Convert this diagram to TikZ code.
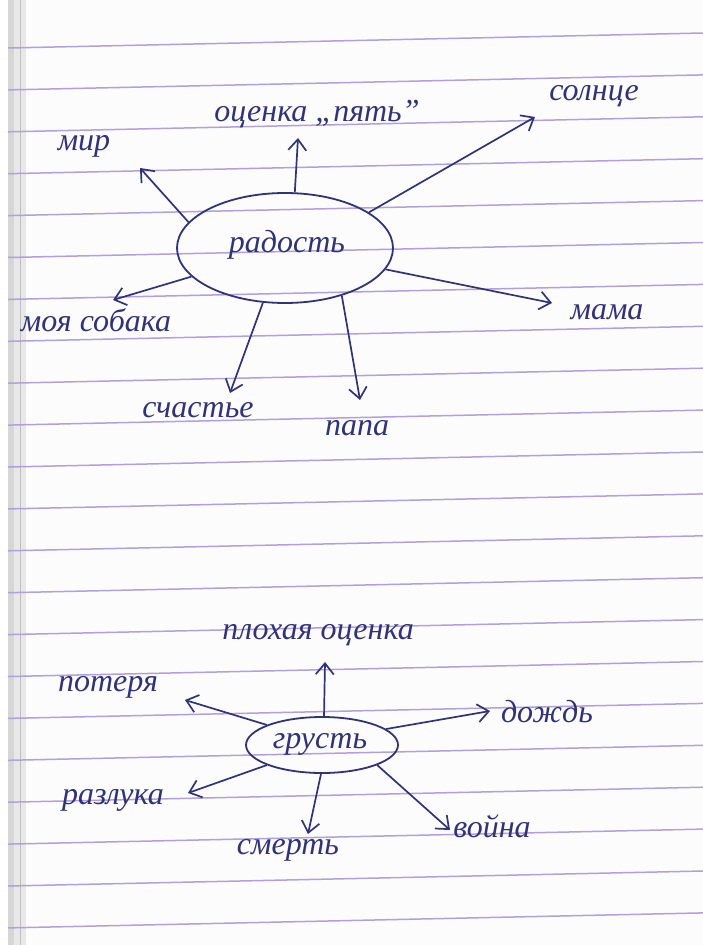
\documentclass[tikz,border=0pt]{standalone}
\usepackage{fontspec}
\setmainfont{Liberation Serif}
\usepackage{tikz}
\usetikzlibrary{shapes.geometric,arrows.meta}

\definecolor{ink}{RGB}{50,50,118}
\definecolor{ruling}{RGB}{176,160,222}
\definecolor{paper}{RGB}{252,252,252}

\begin{document}
\begin{tikzpicture}[x=1pt, y=-1pt,
    word/.style={font=\itshape\fontsize{32}{32}\selectfont, text=ink, inner sep=0pt},
    blob/.style={ellipse, draw=ink, line width=1.8pt, inner sep=0pt},
    arr/.style={draw=ink, line width=1.7pt, -{Straight Barb[length=11pt, width=18pt]}}]
      \useasboundingbox (0, 0) rectangle (703, 945);
      % the notebook page
      \fill[white] (0, 0) rectangle (703, 945);
      \fill[paper] (8, 0) rectangle (703, 945);
      \fill[black!16] (8, 0) rectangle (14, 945);
      \fill[black!9] (14, 0) rectangle (26, 945);
      \draw[black!25, line width=1pt] (20, 0) -- (20, 945);
      \foreach \k in {0,...,21}
        \draw[ruling, line width=1.5pt] (8, 48 + 41.9*\k) -- (703, 33 + 41.9*\k);

      % top map
      \node[blob, minimum width=216pt, minimum height=110pt] (joy) at (285, 248) {};
      \node[word] (joytxt) at (287, 245) {радость};

      \coordinate (tmir) at (140, 168);
      \coordinate (tgrade) at (298, 138);
      \coordinate (tsun) at (535, 117);
      \coordinate (tmom) at (552, 303);
      \coordinate (tdad) at (360, 400);
      \coordinate (thappy) at (230, 393);
      \coordinate (tdog) at (113, 300);

      \node[word] (mir) at (84, 146) {мир};
      \node[word] (grade) at (317, 114) {оценка „пять"};
      \node[word] (sun) at (594, 96) {солнце};
      \node[word] (mom) at (607, 312) {мама};
      \node[word] (dad) at (357, 428) {папа};
      \node[word] (happy) at (198, 410) {счастье};
      \node[word] (dog) at (96, 320) {моя собака};

      \draw[arr] (joy.165) -- (tmir);
      \draw[arr] (joy.80) -- (tgrade);
      \draw[arr] (joy.23) -- (tsun);
      \draw[arr] (joy.-12) -- (tmom);
      \draw[arr] (joy.-40) -- (tdad);
      \draw[arr] (joy.-112) -- (thappy);
      \draw[arr] (joy.-163) -- (tdog);

      % bottom map
      \node[blob, minimum width=152pt, minimum height=56pt] (sad) at (322, 745) {};
      \node[word] (sadtxt) at (320, 744) {грусть};

      \coordinate (tbad) at (325, 662);
      \coordinate (tloss) at (185, 700);
      \coordinate (train) at (490, 711);
      \coordinate (tpart) at (188, 793);
      \coordinate (tdeath) at (308, 834);
      \coordinate (twar) at (450, 830);

      \node[word] (bad) at (318, 635) {плохая оценка};
      \node[word] (loss) at (108, 687) {потеря};
      \node[word] (rain) at (547, 712) {дождь};
      \node[word] (part) at (113, 800) {разлука};
      \node[word] (death) at (288, 850) {смерть};
      \node[word] (war) at (492, 826) {война};

      \draw[arr] (sad.86) -- (tbad);
      \draw[arr] (sad.160) -- (tloss);
      \draw[arr] (sad.14) -- (train);
      \draw[arr] (sad.-160) -- (tpart);
      \draw[arr] (sad.-92) -- (tdeath);
      \draw[arr] (sad.-20) -- (twar);
    \end{tikzpicture}
\end{document}
